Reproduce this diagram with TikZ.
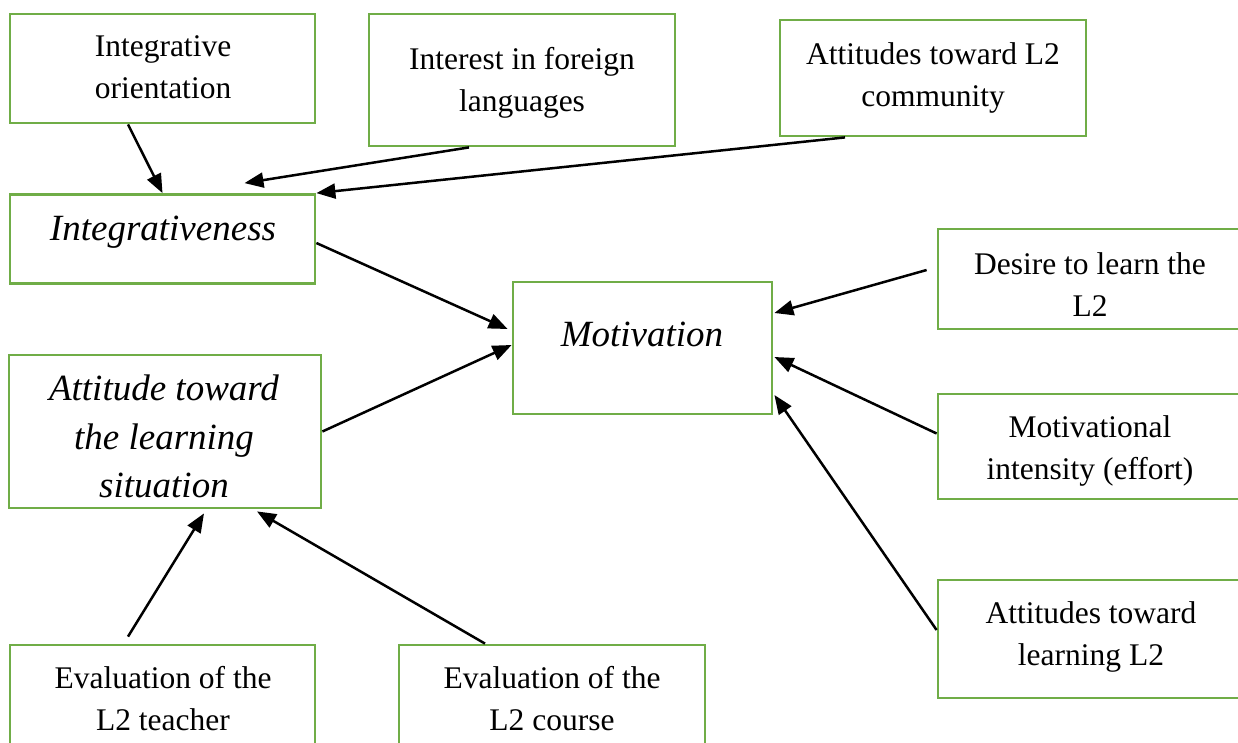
\documentclass[tikz,border=0pt]{standalone}
\usepackage{fontspec}
\setmainfont{Liberation Serif}
\usetikzlibrary{arrows.meta,calc}
\definecolor{boxgreen}{RGB}{112,173,71}
\begin{document}
\begin{tikzpicture}[x=1pt,y=-1pt,
  box/.style={draw=boxgreen,line width=2.8pt,rectangle,inner sep=0pt},
  txt/.style={anchor=north,inner sep=0pt,align=center,font=\fontsize{31.5}{42}\selectfont},
  itxt/.style={anchor=north,inner sep=0pt,align=center,font=\fontsize{37}{48.5}\selectfont\itshape},
  arr/.style={-{Triangle[length=19pt,width=15pt]},line width=2.5pt,black}]
\useasboundingbox (0,0) rectangle (1238,742);
\clip (0,0) rectangle (1238,742);
% boxes
\node[box,minimum width=305pt,minimum height=109pt] (io)  at (162.5,68.5) {};
\node[box,minimum width=306pt,minimum height=132pt] (ifl) at (522,80) {};
\node[box,minimum width=306pt,minimum height=116pt] (alc) at (933,78) {};
\node[box,minimum width=305pt,minimum height=89pt]  (iv)  at (162.5,239) {};
\node[box,minimum width=259pt,minimum height=132pt] (mot) at (642.5,348) {};
\node[box,minimum width=306pt,minimum height=100pt] (des) at (1091,279) {};
\node[box,minimum width=306pt,minimum height=105pt] (mi)  at (1091,446.5) {};
\node[box,minimum width=306pt,minimum height=118pt] (atl) at (1091,639) {};
\node[box,minimum width=312pt,minimum height=153pt] (als) at (165,431.5) {};
\node[box,minimum width=305pt,minimum height=110pt] (et)  at (162.5,700) {};
\node[box,minimum width=306pt,minimum height=110pt] (ec)  at (552,700) {};
% texts
\node[txt]  (tio)  at (163,35)  {Integrative\\orientation};
\node[txt]  (tifl) at (522,47)  {Interest in foreign\\languages};
\node[txt]  (talc) at (933,42)  {Attitudes toward L2\\community};
\node[itxt] (tiv)  at (163,216) {Integrativeness};
\node[itxt] (tmot) at (642,322) {Motivation};
\node[txt]  (tdes) at (1090,252) {Desire to learn the\\L2};
\node[txt]  (tmi)  at (1090,415) {Motivational\\intensity (effort)};
\node[txt]  (tatl) at (1091,601) {Attitudes toward\\learning L2};
\node[itxt] (tals) at (164,375) {Attitude toward\\the learning\\situation};
\node[txt]  (tet)  at (163,666) {Evaluation of the\\L2 teacher};
\node[txt]  (tec)  at (552,666) {Evaluation of the\\L2 course};
% connectors
\draw[arr] ($(io.south)+(-34.5,0)$) -- (iv.north);
\coordinate (ifltip) at ($(iv.north)+(82,-10)$);
\draw[arr] ($(ifl.south)+(-53,0)$) -- (ifltip);
\draw[arr] ($(alc.south)+(-88,0)$) -- (iv.north east);
\draw[arr] ($(iv.east)+(0,4)$) -- ($(mot.west)+(-4,-19)$);
\draw[arr] (als.east) -- ($(mot.west)+(0,-3)$);
\draw[arr] ($(des.west)+(-10,-9)$) -- ($(mot.east)+(1,-35)$);
\draw[arr] ($(mi.west)+(0,-13)$) -- ($(mot.east)+(1,9)$);
\draw[arr] ($(atl.west)+(0,-9)$) -- ($(mot.east)+(1,47)$);
\draw[arr] ($(et.north)+(-34.5,-7)$) -- ($(als.south)+(39,4)$);
\draw[arr] ($(ec.north)+(-67,0)$) -- ($(als.south)+(92,2)$);
\end{tikzpicture}
\end{document}
